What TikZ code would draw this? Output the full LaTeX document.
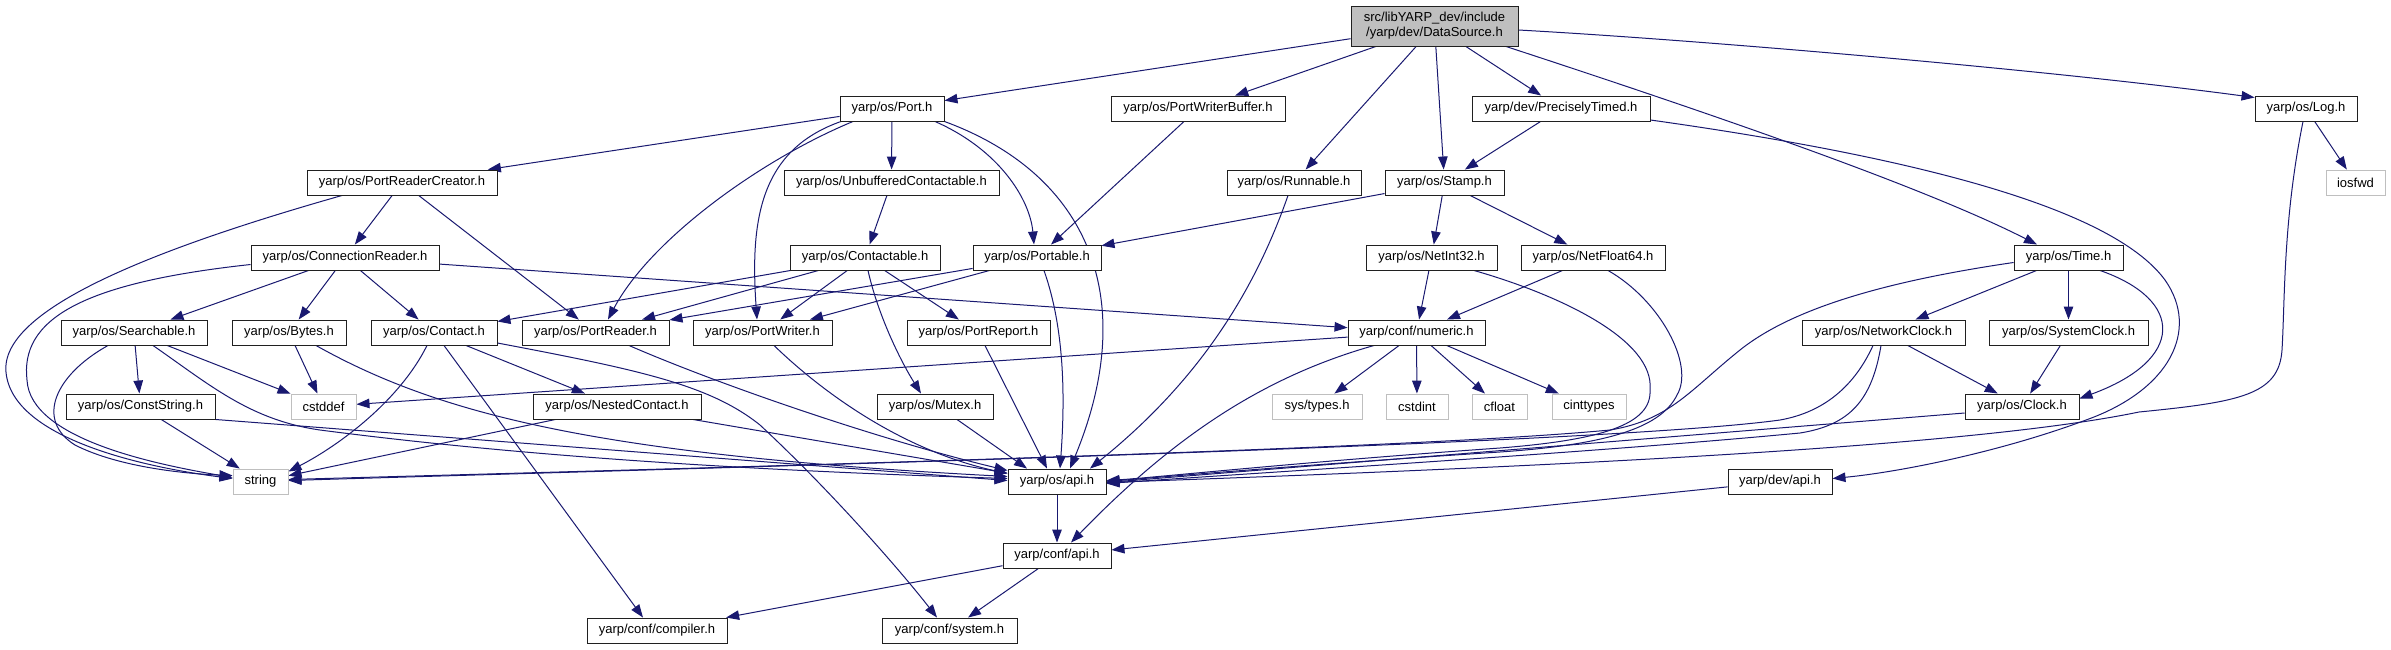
\documentclass[tikz,border=0pt]{standalone}
\usepackage{fontspec}
\setmainfont{Liberation Sans}
\usetikzlibrary{arrows.meta,calc}
\definecolor{edgec}{HTML}{191970}
\definecolor{extc}{HTML}{BFBFBF}
\definecolor{boxc}{HTML}{202020}
\pgfdeclarelayer{bg}
\pgfsetlayers{bg,main}
\begin{document}
\begin{tikzpicture}[x=1pt,y=-1pt,
  box/.style={draw=boxc, line width=0.95pt, fill=white, minimum height=25pt, inner sep=0pt, font=\fontsize{13}{15}\selectfont, text=black},
  sysbox/.style={box, draw=extc},
  dep/.style={draw=edgec, line width=1pt, -{Triangle[length=13pt,width=9.5pt]}}
]
\useasboundingbox (0,0) rectangle (2391,649);
% nodes
\node[box, fill=extc, minimum width=167pt, minimum height=40pt, align=center] (ds) at (1434.5,26) {src/libYARP\_dev/include\\/yarp/dev/DataSource.h};
\node[box,minimum width=104pt] (port) at (892,108.5) {yarp/os/Port.h};
\node[box,minimum width=174pt] (pwb) at (1198,108.5) {yarp/os/PortWriterBuffer.h};
\node[box,minimum width=178pt] (pt) at (1561,108.5) {yarp/dev/PreciselyTimed.h};
\node[box,minimum width=102pt] (log) at (2306,108.5) {yarp/os/Log.h};
\node[box,minimum width=190pt] (prc) at (402,182.5) {yarp/os/PortReaderCreator.h};
\node[box,minimum width=215pt] (uc) at (891.5,182.5) {yarp/os/UnbufferedContactable.h};
\node[box,minimum width=134pt] (run) at (1294,182.5) {yarp/os/Runnable.h};
\node[box,minimum width=119pt] (stamp) at (1444.5,182.5) {yarp/os/Stamp.h};
\node[sysbox,minimum width=59pt] (iosfwd) at (2355.5,182.5) {iosfwd};
\node[box,minimum width=188pt] (cr) at (345,257.5) {yarp/os/ConnectionReader.h};
\node[box,minimum width=150pt] (ctbl) at (865,257.5) {yarp/os/Contactable.h};
\node[box,minimum width=128pt] (ptbl) at (1037,257.5) {yarp/os/Portable.h};
\node[box,minimum width=131pt] (ni) at (1431.5,257.5) {yarp/os/NetInt32.h};
\node[box,minimum width=144pt] (nf) at (1593,257.5) {yarp/os/NetFloat64.h};
\node[box,minimum width=109pt] (time) at (2068.5,257.5) {yarp/os/Time.h};
\node[box,minimum width=146pt] (srch) at (134,332.5) {yarp/os/Searchable.h};
\node[box,minimum width=114pt] (bytes) at (289,332.5) {yarp/os/Bytes.h};
\node[box,minimum width=126pt] (contact) at (434,332.5) {yarp/os/Contact.h};
\node[box,minimum width=147pt] (prd) at (595.5,332.5) {yarp/os/PortReader.h};
\node[box,minimum width=139pt] (pwr) at (762.5,332.5) {yarp/os/PortWriter.h};
\node[box,minimum width=143pt] (prep) at (978.5,332.5) {yarp/os/PortReport.h};
\node[box,minimum width=137pt] (num) at (1416.5,332.5) {yarp/conf/numeric.h};
\node[box,minimum width=163pt] (nclk) at (1883.5,332.5) {yarp/os/NetworkClock.h};
\node[box,minimum width=159pt] (sclk) at (2068.5,332.5) {yarp/os/SystemClock.h};
\node[box,minimum width=149pt] (cstr) at (140.5,406.5) {yarp/os/ConstString.h};
\node[sysbox,minimum width=65pt] (cstddef) at (323.5,406.5) {cstddef};
\node[box,minimum width=168pt] (nest) at (617,406.5) {yarp/os/NestedContact.h};
\node[box,minimum width=116pt] (mutex) at (935,406.5) {yarp/os/Mutex.h};
\node[sysbox,minimum width=90pt] (systypes) at (1317,406.5) {sys/types.h};
\node[sysbox,minimum width=62pt] (cstdint) at (1417,406.5) {cstdint};
\node[sysbox,minimum width=55pt] (cfloat) at (1499.5,406.5) {cfloat};
\node[sysbox,minimum width=74pt] (cinttypes) at (1589,406.5) {cinttypes};
\node[box,minimum width=114pt] (clk) at (2022,406.5) {yarp/os/Clock.h};
\node[sysbox,minimum width=55pt] (str) at (260.5,481.5) {string};
\node[box,minimum width=98pt] (osapi) at (1057,481.5) {yarp/os/api.h};
\node[box,minimum width=104pt] (devapi) at (1780,481.5) {yarp/dev/api.h};
\node[box,minimum width=108pt] (confapi) at (1057,555.5) {yarp/conf/api.h};
\node[box,minimum width=140pt] (comp) at (657,630.5) {yarp/conf/compiler.h};
\node[box,minimum width=135pt] (sys) at (949.5,630.5) {yarp/conf/system.h};

\begin{pgfonlayer}{bg}
\fill[white] (0,0) rectangle (2391,649);
% straight edges
\draw[dep] (ds) -- (port);
\draw[dep] (ds) -- (pwb);
\draw[dep] (ds) -- (run);
\draw[dep] (ds) -- (stamp);
\draw[dep] (ds) -- (pt);
\draw[dep] (port) -- (prc);
\draw[dep] (port) -- (uc);
\draw[dep] (pwb) -- (ptbl);
\draw[dep] (pt) -- (stamp);
\draw[dep] (log) -- (iosfwd);
\draw[dep] (prc) -- (cr);
\draw[dep] (prc) -- (prd);
\draw[dep] (uc) -- (ctbl);
\draw[dep] (stamp) -- (ptbl);
\draw[dep] (stamp) -- (ni);
\draw[dep] (stamp) -- (nf);
\draw[dep] (cr) -- (srch);
\draw[dep] (cr) -- (bytes);
\draw[dep] (cr) -- (contact);
\draw[dep] (cr) -- (num);
\draw[dep] (ctbl) -- (contact);
\draw[dep] (ctbl) -- (prd);
\draw[dep] (ctbl) -- (pwr);
\draw[dep] (ctbl) -- (prep);
\draw[dep] (ptbl) -- (prd);
\draw[dep] (ptbl) -- (pwr);
\draw[dep] (ni) -- (num);
\draw[dep] (nf) -- (num);
\draw[dep] (time) -- (nclk);
\draw[dep] (time) -- (sclk);
\draw[dep] (nclk) -- (clk);
\draw[dep] (sclk) -- (clk);
\draw[dep] (srch) -- (cstr);
\draw[dep] (srch) -- (cstddef);
\draw[dep] (bytes) -- (cstddef);
\draw[dep] (contact) -- (nest);
\draw[dep] (num) -- (systypes);
\draw[dep] (num) -- (cstdint);
\draw[dep] (num) -- (cfloat);
\draw[dep] (num) -- (cinttypes);
\draw[dep] (num) -- (cstddef);
\draw[dep] (cstr) -- (str);
\draw[dep] (nest) -- (str);
\draw[dep] (nest) -- (osapi);
\draw[dep] (osapi) -- (confapi);
\draw[dep] (devapi) -- (confapi);
\draw[dep] (confapi) -- (comp);
\draw[dep] (confapi) -- (sys);
% offset straight edges
\draw[dep] ($(prep.south)+(6.5,0)$) -- ($(osapi.north)+(-10,0)$);
\draw[dep] ($(mutex.south)+(22,0)$) -- ($(osapi.north)+(-30,0)$);
\draw[dep] ($(contact.south)+(10,0)$) -- ($(comp.north)+(-14,0)$);
\draw[dep] (cstr.south east) -- ($(osapi.west)+(0,-1)$);
\draw[dep] ($(clk.west)+(0,6.5)$) -- ($(osapi.east)+(0,1)$);
% curved edges
\draw[dep] ($(ds.south)+(71.5,0)$) .. controls (1700,110) and (1920,185) .. ($(time.north)+(-31.5,0)$);
\draw[dep] ($(ds.east)+(0,4)$) .. controls (1700,40) and (2050,70) .. ($(log.west)+(0,-11)$);
\draw[dep] ($(pt.east)+(0,11.5)$) .. controls (1900,155) and (2110,205) .. (2165,280) .. controls (2200,330) and (2170,390) .. (2086,420) .. controls (2000,452) and (1900,472) .. ($(devapi.east)+(0,-3)$);
\draw[dep] ($(port.south)+(-39,0)$) .. controls (760,160) and (650,240) .. ($(prd.north)+(12.5,0)$);
\draw[dep] ($(port.south)+(-51,0)$) .. controls (760,150) and (750,220) .. ($(pwr.north)+(-5.5,0)$);
\draw[dep] ($(port.south)+(43,0)$) .. controls (1000,150) and (1030,200) .. ($(ptbl.north)+(-3,0)$);
\draw[dep] (port.south east) .. controls (1090,175) and (1140,300) .. ($(osapi.north)+(13,0)$);
\draw[dep] ($(run.south)+(-6,0)$) .. controls (1255,290) and (1200,380) .. ($(osapi.north)+(33,0)$);
\draw[dep] ($(ptbl.south)+(7,0)$) .. controls (1065,330) and (1065,400) .. ($(osapi.north)+(3,0)$);
\draw[dep] ($(prd.south)+(33.5,0)$) .. controls (720,385) and (880,440) .. ($(osapi.west)+(0,-11)$);
\draw[dep] ($(pwr.south)+(11.5,0)$) .. controls (820,390) and (900,450) .. ($(osapi.west)+(0,-8)$);
\draw[dep] ($(srch.south)+(19,0)$) .. controls (210,385) and (250,420) .. (320,430) .. controls (550,460) and (800,472) .. ($(osapi.west)+(0,-3)$);
\draw[dep] ($(bytes.south)+(27,0)$) .. controls (440,415) and (600,455) .. ($(osapi.west)+(0,-5)$);
\draw[dep] ($(contact.south)+(-7,0)$) .. controls (400,400) and (340,445) .. ($(str.east)+(0,-10)$);
\draw[dep] ($(contact.east)+(0,10.5)$) .. controls (640,370) and (710,385) .. (760,425) .. controls (830,490) and (900,570) .. ($(sys.north)+(-12.5,0)$);
\draw[dep] ($(ctbl.south)+(3,0)$) .. controls (878,315) and (900,360) .. ($(mutex.north)+(-14,0)$);
\draw[dep] ($(num.south)+(-42.5,0)$) .. controls (1270,375) and (1180,430) .. ($(confapi.north)+(14,0)$);
\draw[dep] ($(ni.south)+(42.5,0)$) .. controls (1560,295) and (1655,340) .. (1650,390) .. controls (1652,425) and (1600,440) .. (1500,448) .. controls (1300,462) and (1150,478) .. ($(osapi.east)+(0,-1)$);
\draw[dep] ($(nf.south)+(15,0)$) .. controls (1660,300) and (1695,365) .. (1677,395) .. controls (1660,430) and (1600,445) .. (1500,452) .. controls (1300,465) and (1150,478) .. (osapi.east);
\draw[dep] ($(nclk.south)+(-10.5,0)$) .. controls (1855,385) and (1825,412) .. (1780,420) .. controls (1600,445) and (700,468) .. ($(str.east)+(0,-1)$);
\draw[dep] ($(nclk.south)+(-2.5,0)$) .. controls (1872,400) and (1850,425) .. (1800,433) .. controls (1600,452) and (1300,470) .. ($(osapi.east)+(0,2)$);
\draw[dep] ($(log.south)+(-3,0)$) .. controls (2283,220) and (2285,300) .. (2282,350) .. controls (2279,395) and (2240,402) .. (2139,412) .. controls (1980,445) and (1600,465) .. ($(osapi.east)+(0,1)$);
\draw[dep] ($(time.west)+(0,5)$) .. controls (1880,282) and (1790,310) .. (1740,350) .. controls (1690,390) and (1670,420) .. (1610,430) .. controls (1400,450) and (700,468) .. ($(str.east)+(0,-2)$);
\draw[dep] ($(time.south)+(31.5,0)$) .. controls (2185,300) and (2185,360) .. ($(clk.east)+(0,-8)$);
\draw[dep] ($(prc.south)+(-60,0)$) .. controls (150,250) and (0,310) .. (6,372) .. controls (12,440) and (150,468) .. ($(str.west)+(0,-3)$);
\draw[dep] ($(cr.west)+(0,7)$) .. controls (80,283) and (20,320) .. (27,380) .. controls (30,440) and (160,465) .. ($(str.west)+(0,-4)$);
\draw[dep] ($(srch.south)+(-26,0)$) .. controls (55,375) and (35,420) .. (75,445) .. controls (120,468) and (190,474) .. ($(str.west)+(0,-6)$);
\end{pgfonlayer}
\end{tikzpicture}
\end{document}
